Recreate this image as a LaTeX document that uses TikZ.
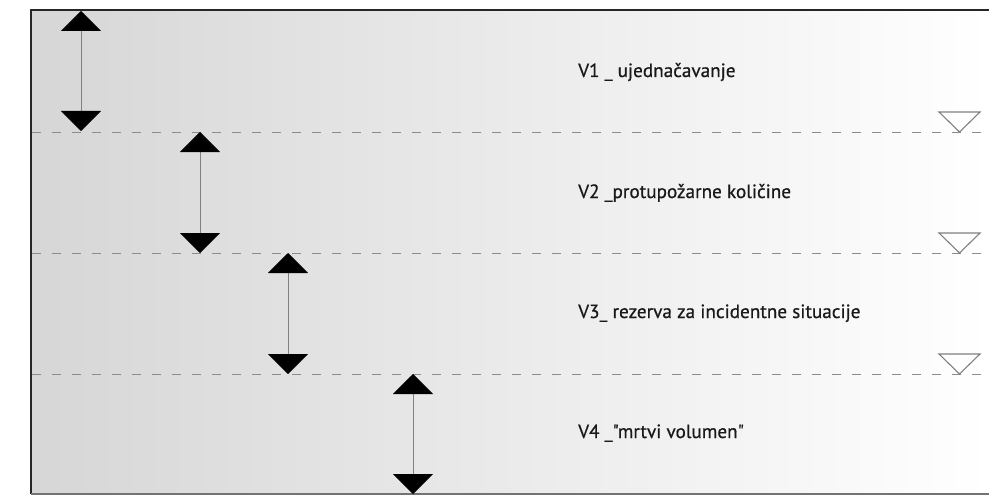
\documentclass[tikz,border=0pt]{standalone}
\usepackage{fontspec}
\setmainfont{PT Sans}
\newfontfamily\lblfont[FakeBold=0.6]{PT Sans}
\usetikzlibrary{arrows.meta}
\tikzset{
  level/.style={draw=black!45, line width=1pt, dash pattern=on 9pt off 11pt},
  dimline/.style={draw=black!50, line width=0.9pt,
    {Triangle[width=40pt,length=20pt,color=black]}-{Triangle[width=40pt,length=20pt,color=black]}},
  wl/.style={draw=black!50, line width=1.1pt, line join=miter},
  lbl/.style={anchor=base west, inner sep=0pt, text=black!90, font=\lblfont\fontsize{19.2}{21}\selectfont}
}
\begin{document}
\begin{tikzpicture}[x=1pt,y=-1pt]
\useasboundingbox (0,0) rectangle (989,495);
\fill[white] (0,0) rectangle (989,495);
\shade[left color=black!16, right color=white] (31,10) rectangle (989,494);
% frame
\draw[black!85, line width=2pt] (989,10) -- (31,10) -- (31,494);
\draw[black!55, line width=1.5pt] (31,494) -- (989,494);
% levels
\foreach \i/\y in {1/132,2/253,3/374}{
  \coordinate (L\i l) at (32,\y);
  \coordinate (L\i r) at (989,\y);
  \draw[level] (L\i l) -- (L\i r);
  \draw[wl] (939,\y-20) -- (980,\y-20) -- (959.5,\y) -- cycle;
}
% dimension arrows
\coordinate (a1t) at (81,11);  \coordinate (a1b) at (81,131);
\coordinate (a2t) at (200,132); \coordinate (a2b) at (200,253);
\coordinate (a3t) at (288,253); \coordinate (a3b) at (288,374);
\coordinate (a4t) at (413,374); \coordinate (a4b) at (413,494);
\draw[dimline] (a1t) -- (a1b);
\draw[dimline] (a2t) -- (a2b);
\draw[dimline] (a3t) -- (a3b);
\draw[dimline] (a4t) -- (a4b);
% labels
\node[lbl] (t1) at (578,77) {V1 \_ ujednačavanje};
\node[lbl] (t2) at (578,198) {V2 \_protupožarne količine};
\node[lbl] (t3) at (578,318) {V3\_ rezerva za incidentne situacije};
\node[lbl] (t4) at (578,438) {V4 \_"mrtvi volumen"};
\end{tikzpicture}
\end{document}
